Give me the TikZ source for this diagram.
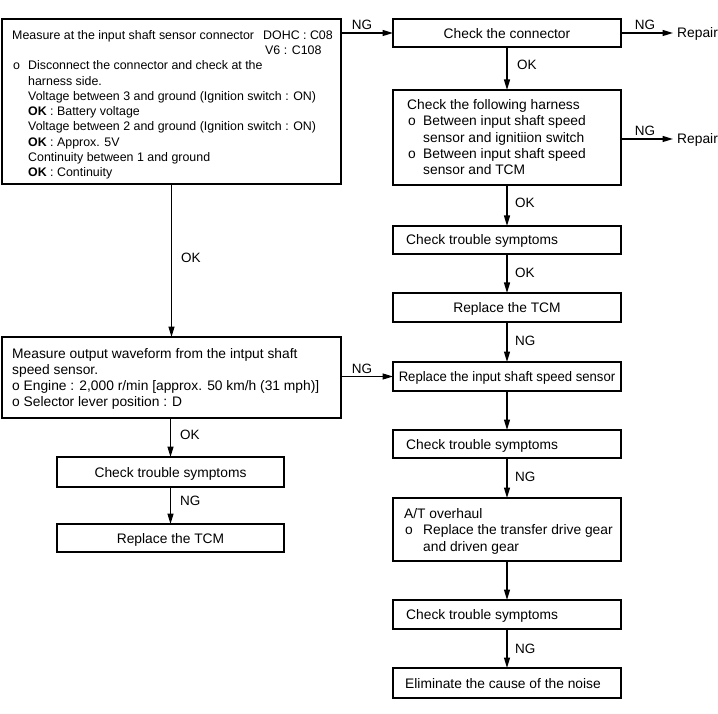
\documentclass[tikz,border=0pt]{standalone}
\usepackage{fontspec}
\usepackage{graphicx}
\setmainfont{Liberation Sans}
\usetikzlibrary{arrows.meta}
\begin{document}
\begin{tikzpicture}[x=1pt,y=-1pt,
  box/.style={draw, line width=1.3pt, rectangle, inner sep=0pt, outer sep=0pt, anchor=north west},
  txt/.style={inner sep=0pt, anchor=base west, font=\fontsize{13.8}{16.3}\selectfont},
  ctxt/.style={inner sep=0pt, anchor=base, font=\fontsize{13.8}{16.3}\selectfont},
  stxt/.style={inner sep=0pt, anchor=base west, font=\fontsize{12.4}{15.3}\selectfont},
  lbl/.style={inner sep=0pt, anchor=base west, font=\fontsize{13.5}{15}\selectfont},
  clbl/.style={inner sep=0pt, anchor=base, font=\fontsize{13.5}{15}\selectfont},
  arr/.style={line width=1.3pt, -{Triangle[length=10.5pt,width=6pt]}},
]
\useasboundingbox[fill=white] (0,0) rectangle (718,714);

% ---------- boxes ----------
\node[box, minimum width=339pt, minimum height=165pt] (A) at (2,19) {};
\node[box, minimum width=228pt, minimum height=28pt]  (B) at (393,19) {};
\node[box, minimum width=228pt, minimum height=95pt]  (C) at (393,90) {};
\node[box, minimum width=228pt, minimum height=28pt]  (D) at (393,226) {};
\node[box, minimum width=228pt, minimum height=29pt]  (E) at (393,293) {};
\node[box, minimum width=228pt, minimum height=29pt]  (F) at (393,362) {};
\node[box, minimum width=228pt, minimum height=28pt]  (G) at (393,430) {};
\node[box, minimum width=228pt, minimum height=63pt]  (H) at (393,498) {};
\node[box, minimum width=228pt, minimum height=29pt]  (I) at (393,600) {};
\node[box, minimum width=228pt, minimum height=30pt]  (J) at (393,668) {};
\node[box, minimum width=339pt, minimum height=81pt]  (K) at (2,337) {};
\node[box, minimum width=227pt, minimum height=30pt]  (L) at (57,457) {};
\node[box, minimum width=227pt, minimum height=28pt]  (M) at (57,524) {};

% ---------- box texts ----------
% A
\node[stxt] (A1) at (12,39.2) {Measure at the input shaft sensor connector};
\node[stxt] (A1b) at (263,39.2) {DOHC : C08};
\node[stxt] (A2) at (265,54.5) {V6 : C108};
\node[stxt] (A3o) at (13,69.8) {o};
\node[stxt] (A3) at (28,69.8) {Disconnect the connector and check at the};
\node[stxt] (A4) at (28,85.1) {harness side.};
\node[stxt] (A5) at (28,100.4) {Voltage between 3 and ground (Ignition switch : ON)};
\node[stxt] (A6) at (28,115.7) {\textbf{OK} : Battery voltage};
\node[stxt] (A7) at (28,131) {Voltage between 2 and ground (Ignition switch : ON)};
\node[stxt] (A8) at (28,146.3) {\textbf{OK} : Approx. 5V};
\node[stxt] (A9) at (28,161.6) {Continuity between 1 and ground};
\node[stxt] (A10) at (28,176.9) {\textbf{OK} : Continuity};
% B
\node[ctxt] (Bt) at (507,38.2) {Check the connector};
% C
\node[txt] (C1) at (407,109.5) {Check the following harness};
\node[txt] (C2o) at (408,125.8) {o};
\node[txt] (C2) at (423,125.8) {Between input shaft speed};
\node[txt] (C3) at (423,142.1) {sensor and ignitiion switch};
\node[txt] (C4o) at (408,158.4) {o};
\node[txt] (C4) at (423,158.4) {Between input shaft speed};
\node[txt] (C5) at (423,174.7) {sensor and TCM};
% D, E, F, G
\node[txt] (Dt) at (406,245) {Check trouble symptoms};
\node[ctxt] (Et) at (507,312.5) {Replace the TCM};
\node[ctxt] (Ft) at (507,381.5) {\scalebox{0.95}[1]{Replace the input shaft speed sensor}};
\node[txt] (Gt) at (406,449) {Check trouble symptoms};
% H
\node[txt] (H1) at (404,518) {A/T overhaul};
\node[txt] (H2o) at (405,534.5) {o};
\node[txt] (H2) at (423,534.5) {Replace the transfer drive gear};
\node[txt] (H3) at (423,551) {and driven gear};
% I, J
\node[txt] (It) at (406,619.5) {Check trouble symptoms};
\node[txt] (Jt) at (405,688) {Eliminate the cause of the noise};
% K
\node[txt] (K1) at (12,358) {Measure output waveform from the intput shaft};
\node[txt] (K2) at (12,374.2) {speed sensor.};
\node[txt] (K3) at (12,390.4) {o Engine : 2,000 r/min [approx. 50 km/h (31 mph)]};
\node[txt] (K4) at (12,406.6) {o Selector lever position : D};
% L, M
\node[ctxt] (Lt) at (170.5,477) {Check trouble symptoms};
\node[ctxt] (Mt) at (170.5,543) {Replace the TCM};

% ---------- Repair targets ----------
\node[txt] (rep1) at (677,38) {Repair};
\node[txt] (rep2) at (677,144) {Repair};
\coordinate (r1) at (673,33);
\coordinate (r2) at (673,139);

% ---------- connectors ----------
\draw[arr] (A.east |- B.west) -- (B.west);
\draw[arr] (B.east) -- (r1);
\draw[arr] (B.south) -- (C.north);
\draw[arr] (C.east |- r2) -- (r2);
\draw[arr] (C.south) -- (D.north);
\draw[arr] (D.south) -- (E.north);
\draw[arr] (E.south) -- (F.north);
\draw[arr] (F.south) -- (G.north);
\draw[arr] (G.south) -- (H.north);
\draw[arr] (H.south) -- (I.north);
\draw[arr] (I.south) -- (J.north);
\draw[arr] (A.south) -- (K.north);
\draw[arr] (K.east |- F.west) -- (F.west);
\draw[arr] (L.north |- K.south) -- (L.north);
\draw[arr] (L.south) -- (M.north);

% ---------- connector labels ----------
\node[clbl] (ng1) at (362,29.5) {NG};
\node[clbl] (ng2) at (645,29.5) {NG};
\node[lbl] (ok1) at (517,70) {OK};
\node[clbl] (ng3) at (645,135.5) {NG};
\node[lbl] (ok2) at (515,207.6) {OK};
\node[lbl] (ok3) at (515,277.6) {OK};
\node[lbl] (ng4) at (515,345.6) {NG};
\node[lbl] (ng5) at (515,481.6) {NG};
\node[lbl] (ng6) at (515,653) {NG};
\node[lbl] (oka) at (181,263) {OK};
\node[clbl] (ngk) at (362,373.5) {NG};
\node[lbl] (okk) at (180,439) {OK};
\node[lbl] (ngl) at (180,505.6) {NG};
\end{tikzpicture}
\end{document}
